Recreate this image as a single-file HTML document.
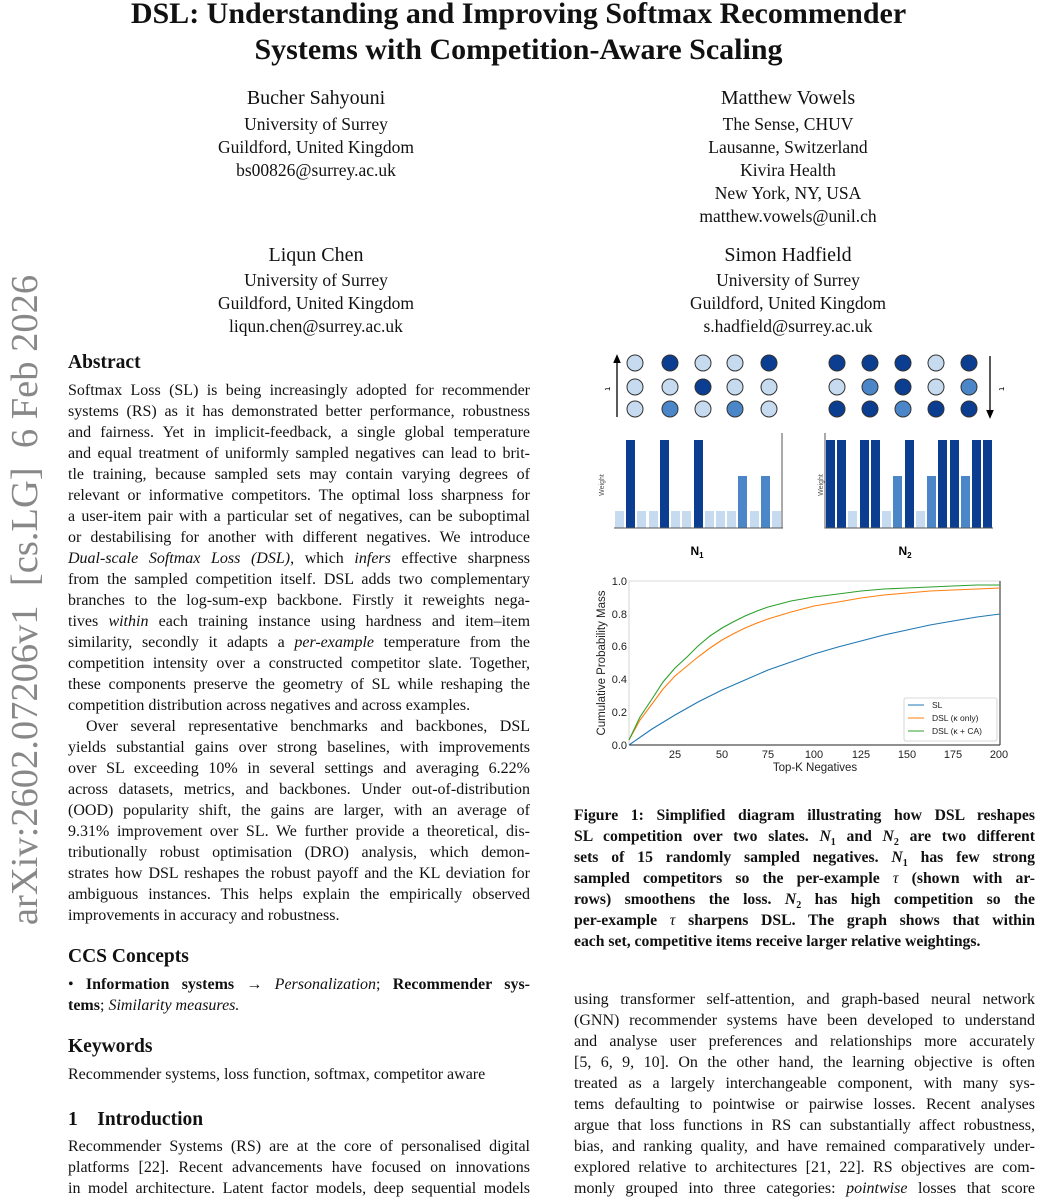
<!DOCTYPE html>
<html><head><meta charset="utf-8"><style>
body{margin:0;width:1037px;height:1200px;background:#fff;position:relative;overflow:hidden;font-family:"Liberation Serif",serif;color:#111}
.t{position:absolute;left:0;width:1037px;text-align:center;font-weight:bold;font-size:30px;line-height:36px}
.c{position:absolute;text-align:center;font-size:17.5px;line-height:23px;white-space:nowrap}
.n{font-size:20px}
.j{position:absolute;font-size:16px;line-height:21px;height:21px;text-align:justify;text-align-last:justify;overflow:visible}
.L{left:68px;width:462px}.R{left:574px;width:461px}
.e{text-align-last:left}
.h{position:absolute;font-weight:bold;font-size:19.5px;line-height:24px;white-space:nowrap}
.b{font-weight:bold;font-size:15.7px}
</style></head><body>
<div class="t" style="top:-4px">DSL: Understanding and Improving Softmax Recommender</div>
<div class="t" style="top:32px">Systems with Competition-Aware Scaling</div>

<div class="c n" style="left:216px;width:200px;top:87px">Bucher Sahyouni</div>
<div class="c" style="left:166px;width:300px;top:113px">University of Surrey<br>Guildford, United Kingdom<br>bs00826@surrey.ac.uk</div>
<div class="c n" style="left:688px;width:200px;top:87px">Matthew Vowels</div>
<div class="c" style="left:638px;width:300px;top:113px">The Sense, CHUV<br>Lausanne, Switzerland<br>Kivira Health<br>New York, NY, USA<br>matthew.vowels@unil.ch</div>
<div class="c n" style="left:216px;width:200px;top:244px">Liqun Chen</div>
<div class="c" style="left:166px;width:300px;top:269px">University of Surrey<br>Guildford, United Kingdom<br>liqun.chen@surrey.ac.uk</div>
<div class="c n" style="left:688px;width:200px;top:244px">Simon Hadfield</div>
<div class="c" style="left:638px;width:300px;top:269px">University of Surrey<br>Guildford, United Kingdom<br>s.hadfield@surrey.ac.uk</div>

<div style="position:absolute;left:25px;top:600px;transform:translate(-50%,-50%) rotate(-90deg);font-size:38.5px;color:#888;white-space:nowrap;font-family:'Liberation Serif',serif">arXiv:2602.07206v1&nbsp; [cs.LG]&nbsp; 6 Feb 2026</div>

<div class="h" style="left:68px;top:351px">Abstract</div>
<div class="j L" style="top:380px">Softmax Loss (SL) is being increasingly adopted for recommender</div>
<div class="j L" style="top:401px">systems (RS) as it has demonstrated better performance, robustness</div>
<div class="j L" style="top:422px">and fairness. Yet in implicit-feedback, a single global temperature</div>
<div class="j L" style="top:443px">and equal treatment of uniformly sampled negatives can lead to brit-</div>
<div class="j L" style="top:464px">tle training, because sampled sets may contain varying degrees of</div>
<div class="j L" style="top:485px">relevant or informative competitors. The optimal loss sharpness for</div>
<div class="j L" style="top:506px">a user-item pair with a particular set of negatives, can be suboptimal</div>
<div class="j L" style="top:527px">or destabilising for another with different negatives. We introduce</div>
<div class="j L" style="top:548px"><i>Dual-scale Softmax Loss (DSL)</i>, which <i>infers</i> effective sharpness</div>
<div class="j L" style="top:569px">from the sampled competition itself. DSL adds two complementary</div>
<div class="j L" style="top:590px">branches to the log-sum-exp backbone. Firstly it reweights nega-</div>
<div class="j L" style="top:611px">tives <i>within</i> each training instance using hardness and item–item</div>
<div class="j L" style="top:632px">similarity, secondly it adapts a <i>per-example</i> temperature from the</div>
<div class="j L" style="top:653px">competition intensity over a constructed competitor slate. Together,</div>
<div class="j L" style="top:674px">these components preserve the geometry of SL while reshaping the</div>
<div class="j L e" style="top:695px">competition distribution across negatives and across examples.</div>
<div class="j L" style="top:716px;padding-left:18px;width:444px">Over several representative benchmarks and backbones, DSL</div>
<div class="j L" style="top:737px">yields substantial gains over strong baselines, with improvements</div>
<div class="j L" style="top:758px">over SL exceeding 10% in several settings and averaging 6.22%</div>
<div class="j L" style="top:779px">across datasets, metrics, and backbones. Under out-of-distribution</div>
<div class="j L" style="top:800px">(OOD) popularity shift, the gains are larger, with an average of</div>
<div class="j L" style="top:821px">9.31% improvement over SL. We further provide a theoretical, dis-</div>
<div class="j L" style="top:842px">tributionally robust optimisation (DRO) analysis, which demon-</div>
<div class="j L" style="top:863px">strates how DSL reshapes the robust payoff and the KL deviation for</div>
<div class="j L" style="top:884px">ambiguous instances. This helps explain the empirically observed</div>
<div class="j L e" style="top:905px">improvements in accuracy and robustness.</div>

<div class="h" style="left:68px;top:945px">CCS Concepts</div>
<div class="j L" style="top:974px">• <b>Information systems</b> → <i>Personalization</i>; <b>Recommender sys-</b></div>
<div class="j L e" style="top:995px"><b>tems</b>; <i>Similarity measures.</i></div>
<div class="h" style="left:68px;top:1035px">Keywords</div>
<div class="j L e" style="top:1064px">Recommender systems, loss function, softmax, competitor aware</div>
<div class="h" style="left:68px;top:1108px">1&nbsp;&nbsp;&nbsp; Introduction</div>
<div class="j L" style="top:1136px">Recommender Systems (RS) are at the core of personalised digital</div>
<div class="j L" style="top:1157px">platforms [22]. Recent advancements have focused on innovations</div>
<div class="j L" style="top:1178px">in model architecture. Latent factor models, deep sequential models</div>

<div class="j R b" style="top:805px">Figure 1: Simplified diagram illustrating how DSL reshapes</div>
<div class="j R b" style="top:826px">SL competition over two slates. <i>N</i><sub style="font-size:10px">1</sub> and <i>N</i><sub style="font-size:10px">2</sub> are two different</div>
<div class="j R b" style="top:847px">sets of 15 randomly sampled negatives. <i>N</i><sub style="font-size:10px">1</sub> has few strong</div>
<div class="j R b" style="top:868px">sampled competitors so the per-example <i style="font-weight:normal">τ</i> (shown with ar-</div>
<div class="j R b" style="top:889px">rows) smoothens the loss. <i>N</i><sub style="font-size:10px">2</sub> has high competition so the</div>
<div class="j R b" style="top:910px">per-example <i style="font-weight:normal">τ</i> sharpens DSL. The graph shows that within</div>
<div class="j R b e" style="top:931px">each set, competitive items receive larger relative weightings.</div>

<div class="j R" style="top:989px">using transformer self-attention, and graph-based neural network</div>
<div class="j R" style="top:1010px">(GNN) recommender systems have been developed to understand</div>
<div class="j R" style="top:1031px">and analyse user preferences and relationships more accurately</div>
<div class="j R" style="top:1052px">[5, 6, 9, 10]. On the other hand, the learning objective is often</div>
<div class="j R" style="top:1073px">treated as a largely interchangeable component, with many sys-</div>
<div class="j R" style="top:1094px">tems defaulting to pointwise or pairwise losses. Recent analyses</div>
<div class="j R" style="top:1115px">argue that loss functions in RS can substantially affect robustness,</div>
<div class="j R" style="top:1136px">bias, and ranking quality, and have remained comparatively under-</div>
<div class="j R" style="top:1157px">explored relative to architectures [21, 22]. RS objectives are com-</div>
<div class="j R" style="top:1178px">monly grouped into three categories: <i>pointwise</i> losses that score</div>

<svg style="position:absolute;left:0;top:0" width="1037" height="1200" font-family="'Liberation Sans',sans-serif">
<defs><marker id="ar" markerWidth="8" markerHeight="8" refX="4" refY="4" orient="auto"><path d="M0,1 L7,4 L0,7 z" fill="#000"/></marker></defs>
<g stroke="#333" stroke-width="1">
<circle cx="635" cy="363" r="8" fill="#c6dbef"/><circle cx="670" cy="363" r="8" fill="#0b3d91"/><circle cx="703" cy="363" r="8" fill="#c6dbef"/><circle cx="735" cy="363" r="8" fill="#c6dbef"/><circle cx="769" cy="363" r="8" fill="#0b3d91"/>
<circle cx="635" cy="387" r="8" fill="#c6dbef"/><circle cx="670" cy="387" r="8" fill="#c6dbef"/><circle cx="703" cy="387" r="8" fill="#0b3d91"/><circle cx="735" cy="387" r="8" fill="#c6dbef"/><circle cx="769" cy="387" r="8" fill="#c6dbef"/>
<circle cx="635" cy="409" r="8" fill="#c6dbef"/><circle cx="670" cy="409" r="8" fill="#4a86c8"/><circle cx="703" cy="409" r="8" fill="#c6dbef"/><circle cx="735" cy="409" r="8" fill="#4a86c8"/><circle cx="769" cy="409" r="8" fill="#c6dbef"/>
<circle cx="837" cy="363" r="8" fill="#0b3d91"/><circle cx="870" cy="363" r="8" fill="#0b3d91"/><circle cx="903" cy="363" r="8" fill="#0b3d91"/><circle cx="936" cy="363" r="8" fill="#c6dbef"/><circle cx="969" cy="363" r="8" fill="#0b3d91"/>
<circle cx="837" cy="387" r="8" fill="#c6dbef"/><circle cx="870" cy="387" r="8" fill="#4a86c8"/><circle cx="903" cy="387" r="8" fill="#0b3d91"/><circle cx="936" cy="387" r="8" fill="#c6dbef"/><circle cx="969" cy="387" r="8" fill="#4a86c8"/>
<circle cx="837" cy="409" r="8" fill="#0b3d91"/><circle cx="870" cy="409" r="8" fill="#0b3d91"/><circle cx="903" cy="409" r="8" fill="#4a86c8"/><circle cx="936" cy="409" r="8" fill="#0b3d91"/><circle cx="969" cy="409" r="8" fill="#0b3d91"/>
</g>
<line x1="617" y1="417" x2="617" y2="358" stroke="#000" stroke-width="1.3" marker-end="url(#ar)"/>
<line x1="990" y1="356" x2="990" y2="415" stroke="#000" stroke-width="1.3" marker-end="url(#ar)"/>
<text x="605" y="387" font-size="9" transform="rotate(90 605 387)">τ</text>
<text x="999" y="387" font-size="9" transform="rotate(90 999 387)">τ</text>
<g>
<rect x="615" y="511" width="9" height="17" fill="#c6dbef"/><rect x="626" y="440" width="9" height="88" fill="#0b3d91"/><rect x="637" y="511" width="9" height="17" fill="#c6dbef"/><rect x="649" y="511" width="9" height="17" fill="#c6dbef"/><rect x="660" y="440" width="9" height="88" fill="#0b3d91"/><rect x="671" y="511" width="9" height="17" fill="#c6dbef"/><rect x="682" y="511" width="9" height="17" fill="#c6dbef"/><rect x="694" y="440" width="9" height="88" fill="#0b3d91"/><rect x="705" y="511" width="9" height="17" fill="#c6dbef"/><rect x="716" y="511" width="9" height="17" fill="#c6dbef"/><rect x="727" y="511" width="9" height="17" fill="#c6dbef"/><rect x="738" y="476" width="9" height="52" fill="#4a86c8"/><rect x="750" y="511" width="9" height="17" fill="#c6dbef"/><rect x="761" y="476" width="9" height="52" fill="#4a86c8"/><rect x="772" y="511" width="9" height="17" fill="#c6dbef"/>
</g>
<path d="M614 528 H783 M782 433 V528" stroke="#555" stroke-width="1" fill="none"/>
<text x="604" y="485" font-size="7" fill="#555" transform="rotate(-90 604 485)" text-anchor="middle">Weight</text>
<g>
<rect x="826" y="440" width="9" height="88" fill="#0b3d91"/><rect x="837" y="440" width="9" height="88" fill="#0b3d91"/><rect x="848" y="511" width="9" height="17" fill="#c6dbef"/><rect x="860" y="440" width="9" height="88" fill="#0b3d91"/><rect x="871" y="440" width="9" height="88" fill="#0b3d91"/><rect x="882" y="511" width="9" height="17" fill="#c6dbef"/><rect x="893" y="476" width="9" height="52" fill="#4a86c8"/><rect x="905" y="440" width="9" height="88" fill="#0b3d91"/><rect x="916" y="511" width="9" height="17" fill="#c6dbef"/><rect x="927" y="476" width="9" height="52" fill="#4a86c8"/><rect x="938" y="440" width="9" height="88" fill="#0b3d91"/><rect x="950" y="440" width="9" height="88" fill="#0b3d91"/><rect x="961" y="476" width="9" height="52" fill="#4a86c8"/><rect x="972" y="440" width="9" height="88" fill="#0b3d91"/><rect x="983" y="440" width="9" height="88" fill="#0b3d91"/>
</g>
<path d="M825 433 V528 H993" stroke="#555" stroke-width="1" fill="none"/>
<text x="823" y="485" font-size="7" fill="#555" transform="rotate(-90 823 485)" text-anchor="middle">Weight</text>
<text x="697" y="555" font-size="12" font-weight="bold" text-anchor="middle">N<tspan font-size="8" dy="3">1</tspan></text>
<text x="905" y="555" font-size="12" font-weight="bold" text-anchor="middle">N<tspan font-size="8" dy="3">2</tspan></text>
<path d="M629 581 H1000 V745 H629 Z" fill="none" stroke="#ccc" stroke-width="0.8"/>
<path d="M629 745 H1000 M1000 581 V745" stroke="#222" stroke-width="1" fill="none"/>
<g font-size="11" fill="#222" text-anchor="end">
<text x="627" y="749">0.0</text><text x="627" y="716">0.2</text><text x="627" y="683">0.4</text><text x="627" y="650">0.6</text><text x="627" y="618">0.8</text><text x="627" y="585">1.0</text>
</g>
<g font-size="11" fill="#222" text-anchor="middle">
<text x="675" y="758">25</text><text x="722" y="758">50</text><text x="768" y="758">75</text><text x="814" y="758">100</text><text x="861" y="758">125</text><text x="907" y="758">150</text><text x="953" y="758">175</text><text x="999" y="758">200</text>
</g>
<text x="815" y="771" font-size="11.5" fill="#222" text-anchor="middle">Top-K Negatives</text>
<text x="605" y="663" font-size="11.5" fill="#222" text-anchor="middle" transform="rotate(-90 605 663)">Cumulative Probability Mass</text>
<polyline fill="none" stroke="#1f77b4" stroke-width="1.1" points="629,745 652,729 675,715 698,702 722,690 745,680 768,670 791,662 814,654 838,647 861,641 884,635 907,630 930,625 953,621 977,617 1000,614"/>
<polyline fill="none" stroke="#ff7f0e" stroke-width="1.1" points="629,740 640,720 652,704 663,689 675,676 687,666 698,657 710,648 722,640 733,634 745,628 757,623 768,619 791,612 814,606 838,602 861,598 884,595 907,593 930,591 953,590 977,589 1000,588"/>
<polyline fill="none" stroke="#2ca02c" stroke-width="1.1" points="629,740 640,717 652,699 663,682 675,668 687,657 698,646 710,636 722,628 733,622 745,616 757,611 768,607 791,601 814,597 838,594 861,591 884,589 907,588 930,587 953,586 977,585 1000,585"/>
<rect x="904" y="698" width="93" height="43" fill="#fff" stroke="#ccc" stroke-width="0.8" rx="2"/>
<g font-size="8.5" fill="#222">
<line x1="908" y1="705" x2="924" y2="705" stroke="#1f77b4"/><text x="932" y="708">SL</text>
<line x1="908" y1="718" x2="924" y2="718" stroke="#ff7f0e"/><text x="932" y="721">DSL (κ only)</text>
<line x1="908" y1="731" x2="924" y2="731" stroke="#2ca02c"/><text x="932" y="734">DSL (κ + CA)</text>
</g>
</svg>
</body></html>
